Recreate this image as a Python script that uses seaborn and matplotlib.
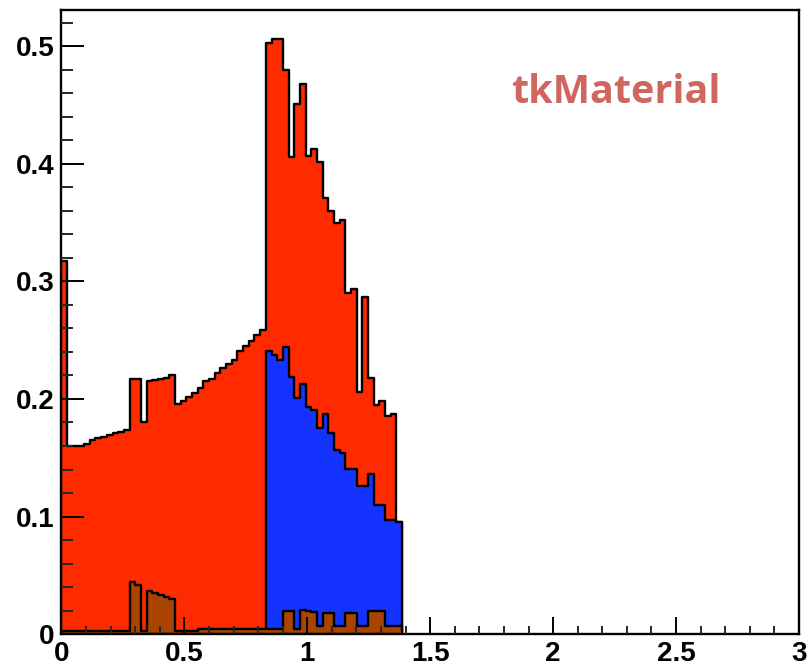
import numpy as np
import pandas as pd
import matplotlib
matplotlib.use("Agg")
import matplotlib.pyplot as plt
import seaborn as sns
from matplotlib.ticker import MultipleLocator

# ---------------- data ----------------
bin_width = 0.0231          # eta bin width
n_bins = 60                 # filled bins starting at eta = 0

# top of the stack (all materials), per bin
total_level = [
    0.317, 0.160, 0.160, 0.160, 0.162, 0.165, 0.167, 0.168, 0.169, 0.171,
    0.172, 0.1735, 0.217, 0.217, 0.180, 0.2155, 0.216, 0.217, 0.218, 0.2205,
    0.196, 0.198, 0.202, 0.2055, 0.209, 0.215, 0.217, 0.222, 0.226, 0.2297,
    0.233, 0.2405, 0.245, 0.249, 0.2547, 0.259, 0.503, 0.506, 0.506, 0.480,
    0.4057, 0.451, 0.468, 0.407, 0.413, 0.402, 0.371, 0.360, 0.3496, 0.352,
    0.290, 0.294, 0.2057, 0.2866, 0.218, 0.195, 0.198, 0.1855, 0.187, 0.0955,
]

# top of the blue layer (blue + brown), bins 36..59
blue_level = [
    0.2405, 0.2376, 0.2333, 0.244, 0.2185, 0.2006, 0.2128, 0.193, 0.191, 0.175,
    0.187, 0.1707, 0.1564, 0.1544, 0.1408, 0.1408, 0.1256, 0.1256, 0.136, 0.110,
    0.110, 0.0974, 0.0974, 0.0955,
]

# bottom (brown) layer, per bin
brown_level = [
    0.003, 0.003, 0.003, 0.003, 0.003, 0.003, 0.003, 0.003, 0.003, 0.003,
    0.003, 0.003, 0.0444, 0.0416, 0.003, 0.0367, 0.0353, 0.0333, 0.0316, 0.0296,
    0.003, 0.003, 0.003, 0.003, 0.0045, 0.0045, 0.0045, 0.0045, 0.0045, 0.0045,
    0.0045, 0.0045, 0.0045, 0.0045, 0.0045, 0.0045, 0.0045, 0.0045, 0.0045, 0.0197,
    0.0197, 0.004, 0.0203, 0.0195, 0.0185, 0.0068, 0.018, 0.018, 0.0068, 0.0068,
    0.018, 0.018, 0.0068, 0.0068, 0.0197, 0.0197, 0.0197, 0.0068, 0.0068, 0.0068,
]

x_tick_values = [0, 0.5, 1, 1.5, 2, 2.5, 3]
x_tick_labels = ["0", "0.5", "1", "1.5", "2", "2.5", "3"]
y_tick_values = [0, 0.1, 0.2, 0.3, 0.4, 0.5]
y_tick_labels = ["0", "0.1", "0.2", "0.3", "0.4", "0.5"]
label_text = "tkMaterial"

RED = "#FF2A00"
BLUE = "#1433FF"
BROWN = "#A84400"
TEXT_COLOR = "#CF6660"

# ---------------- plot ----------------
edges = [i * bin_width for i in range(n_bins + 1)]
centers = [(edges[i] + edges[i + 1]) / 2 for i in range(n_bins)]
blue_first = n_bins - len(blue_level)

df_total = pd.DataFrame({"eta": centers, "w": total_level})
df_blue = pd.DataFrame({"eta": centers[blue_first:], "w": blue_level})
df_brown = pd.DataFrame({"eta": centers, "w": brown_level})

sns.set_style("ticks")
plt.rcParams["font.family"] = ["Liberation Sans", "DejaVu Sans"]

fig = plt.figure(figsize=(8.07, 6.66), dpi=100)
ax = fig.add_axes([0.0761, 0.048, 0.9139, 0.937])

common = dict(x="eta", weights="w", element="step", fill=True, alpha=1,
              edgecolor="black", linewidth=1.7, ax=ax)
sns.histplot(data=df_total, bins=edges, color=RED, **common)
sns.histplot(data=df_blue, bins=edges[blue_first:], color=BLUE, **common)
sns.histplot(data=df_brown, bins=edges, color=BROWN, **common)

ax.set_xlim(0, 3)
ax.set_ylim(0, 0.531)
ax.set_xlabel("")
ax.set_ylabel("")
ax.set_axisbelow(False)

ax.set_xticks(x_tick_values)
ax.set_xticklabels(x_tick_labels)
ax.set_yticks(y_tick_values)
ax.set_yticklabels(y_tick_labels)
ax.xaxis.set_minor_locator(MultipleLocator(0.1))
ax.yaxis.set_minor_locator(MultipleLocator(0.02))

ax.tick_params(axis="x", which="major", direction="in", length=12, width=1.4,
               pad=5, labelsize=20, colors="black")
ax.tick_params(axis="x", which="minor", direction="in", length=6, width=1.4)
ax.tick_params(axis="y", which="major", direction="in", length=16.5, width=1.4,
               pad=5, labelsize=20, colors="black")
ax.tick_params(axis="y", which="minor", direction="in", length=8.5, width=1.4)
ax.tick_params(top=False, right=False, which="both")
for lab in ax.get_xticklabels() + ax.get_yticklabels():
    lab.set_fontweight("bold")

for sp in ax.spines.values():
    sp.set_visible(True)
    sp.set_color("black")
    sp.set_linewidth(1.7)

ax.text(1.83, 0.452, label_text, color=TEXT_COLOR, fontsize=28.5,
        fontweight="bold", family=["Open Sans", "DejaVu Sans"],
        ha="left", va="baseline")

fig.savefig("out.png", dpi=100)
